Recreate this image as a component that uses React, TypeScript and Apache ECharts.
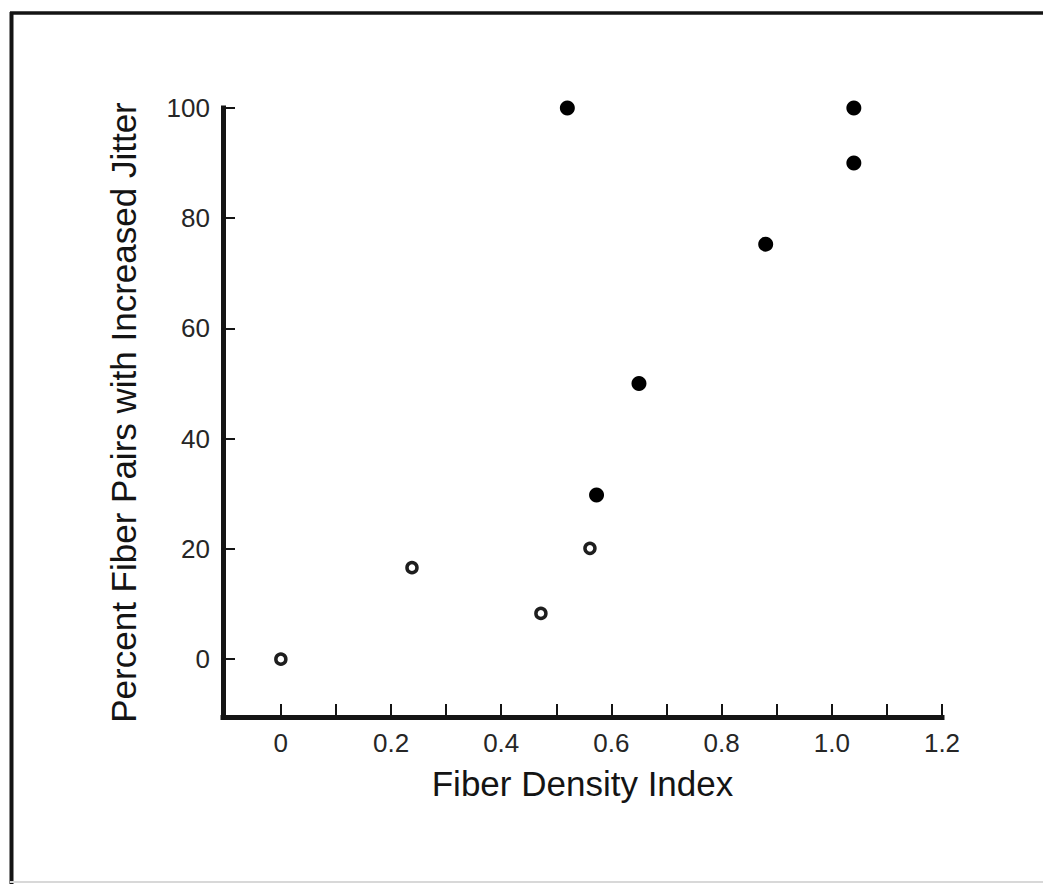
import React, { useEffect, useRef } from "react";
import * as echarts from "echarts";

// Data
const filledPoints: [number, number][] = [
  [0.52, 100],
  [1.04, 100],
  [1.04, 90],
  [0.88, 75.3],
  [0.65, 50],
  [0.573, 29.8],
];
const openPoints: [number, number][] = [
  [0.0, 0],
  [0.238, 16.6],
  [0.472, 8.3],
  [0.561, 20.1],
];
const xTickValues = [0, 0.1, 0.2, 0.3, 0.4, 0.5, 0.6, 0.7, 0.8, 0.9, 1.0, 1.1, 1.2];
const xLabelValues = [0, 0.2, 0.4, 0.6, 0.8, 1.0, 1.2];
const yTickValues = [0, 20, 40, 60, 80, 100];
const xTitle = "Fiber Density Index";
const yTitle = "Percent Fiber Pairs with Increased Jitter";

const FONT = "'Liberation Sans', Arial, Helvetica, sans-serif";
const INK = "#141414";

export default function App() {
  const ref = useRef<HTMLDivElement>(null);
  useEffect(() => {
    if (!ref.current) return;
    const chart = echarts.init(ref.current, undefined, { renderer: "svg" });
    chart.setOption({
      animation: false,
      backgroundColor: "#ffffff",
      textStyle: { fontFamily: FONT },
      grid: { left: 223, right: 101, top: 108, bottom: 167, containLabel: false },
      xAxis: {
        type: "value",
        min: -0.105,
        max: 1.2,
        name: xTitle,
        nameLocation: "middle",
        nameGap: 49,
        nameTextStyle: { fontSize: 35, color: INK, fontFamily: FONT },
        axisLine: { show: true, onZero: false, lineStyle: { color: INK, width: 5, cap: "square" } },
        axisTick: {
          show: true,
          inside: true,
          length: 13,
          customValues: xTickValues,
          lineStyle: { color: INK, width: 2 },
        },
        axisLabel: {
          show: true,
          margin: 13,
          fontSize: 26,
          color: "#262626",
          fontFamily: FONT,
          customValues: xLabelValues,
          formatter: (v: number) => (v === 0 ? "0" : v.toFixed(1)),
        },
        splitLine: { show: false },
      },
      yAxis: {
        type: "value",
        min: -10.5,
        max: 100,
        name: yTitle,
        nameLocation: "middle",
        nameGap: 82,
        nameRotate: 90,
        nameTextStyle: { fontSize: 35, color: INK, fontFamily: FONT },
        axisLine: { show: true, onZero: false, lineStyle: { color: INK, width: 5, cap: "square" } },
        axisTick: {
          show: true,
          inside: true,
          length: 12,
          customValues: yTickValues,
          lineStyle: { color: INK, width: 2 },
        },
        axisLabel: {
          show: true,
          margin: 13,
          fontSize: 26,
          color: "#262626",
          fontFamily: FONT,
          customValues: yTickValues,
        },
        splitLine: { show: false },
      },
      graphic: [
        {
          type: "line",
          shape: { x1: 10, y1: 13, x2: 1043, y2: 13 },
          style: { stroke: INK, lineWidth: 3.5 },
        },
        {
          type: "line",
          shape: { x1: 11.5, y1: 12, x2: 11.5, y2: 884 },
          style: { stroke: INK, lineWidth: 4 },
        },
        {
          type: "line",
          shape: { x1: 10, y1: 882, x2: 1043, y2: 882 },
          style: { stroke: "#d8d8d8", lineWidth: 2 },
        },
      ],
      series: [
        {
          type: "scatter",
          name: "filled",
          data: filledPoints,
          symbol: "circle",
          symbolSize: 15,
          itemStyle: { color: "#000000", opacity: 1 },
        },
        {
          type: "scatter",
          name: "open",
          data: openPoints,
          symbol: "circle",
          symbolSize: 10,
          itemStyle: { color: "#ffffff", borderColor: "#1e1e1e", borderWidth: 3.5, opacity: 1 },
        },
      ],
    });
    return () => chart.dispose();
  }, []);
  return (
    <div
      ref={ref}
      style={{ position: "absolute", left: 0, top: 0, width: 1043, height: 884, background: "#fff" }}
    />
  );
}
